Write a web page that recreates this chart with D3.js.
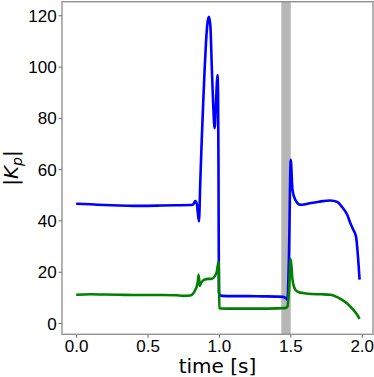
<!DOCTYPE html>
<html>
<head>
<meta charset="utf-8">
<script src="https://cdn.jsdelivr.net/npm/d3@7"></script>
<style>
  body { margin: 0; background: #fff; }
  svg { display: block; font-family: "DejaVu Sans", sans-serif; }
  .axis .domain { display: none; }
  .axis line { stroke: #666; }
  .axis text { fill: #000; font-size: 17px; }
</style>
</head>
<body>
<svg id="chart" width="374" height="377"></svg>
<script>

// time samples [s] and |Kp| values
let blueTime = [0, 0.1, 0.2, 0.3, 0.4, 0.5, 0.6, 0.7, 0.8, 0.82, 0.835, 0.845, 0.86, 0.87, 0.88, 0.89, 0.9, 0.91, 0.92, 0.93, 0.94, 0.95, 0.96, 0.97, 0.978, 0.985, 0.99, 0.994, 0.997, 1.0, 1.005, 1.02, 1.1, 1.2, 1.3, 1.4, 1.45, 1.47, 1.48, 1.49, 1.503, 1.515, 1.535, 1.57, 1.62, 1.7, 1.78, 1.83, 1.86, 1.9, 1.92, 1.94, 1.96, 1.975, 1.985];
let blueVals = [46.5, 46.3, 46.0, 45.8, 45.7, 45.7, 45.8, 45.9, 46.0, 46.3, 47.6, 46.5, 39.6, 56, 72, 86, 99, 110, 117, 119.4, 116, 100, 85, 76, 84, 93, 96.7, 90, 60, 12, 11.0, 10.6, 10.5, 10.5, 10.4, 10.3, 10.2, 9.6, 9.1, 25, 63.6, 52, 48, 46.1, 46.5, 47.3, 47.8, 47.2, 45.4, 42, 39, 36.5, 33.7, 25, 16.9];

let greenTime = [0, 0.1, 0.2, 0.3, 0.4, 0.5, 0.6, 0.7, 0.75, 0.8, 0.82, 0.835, 0.845, 0.852, 0.858, 0.866, 0.875, 0.9, 0.925, 0.95, 0.97, 0.985, 0.998, 1.003, 1.01, 1.1, 1.2, 1.3, 1.4, 1.45, 1.47, 1.48, 1.49, 1.503, 1.515, 1.535, 1.56, 1.59, 1.65, 1.72, 1.78, 1.82, 1.86, 1.9, 1.94, 1.965, 1.985];
let greenVals = [11.0, 11.2, 11.1, 11.0, 10.9, 10.9, 10.9, 10.8, 10.6, 10.7, 11.5, 13, 14.3, 16, 18.8, 14.5, 15.6, 17.0, 17.2, 17.2, 18.2, 20, 24, 5.8, 5.7, 5.6, 5.6, 5.6, 5.7, 5.8, 5.9, 6.5, 12, 24.9, 17, 13, 12, 11.7, 11.3, 11.2, 11.0, 10.3, 9.1, 7.5, 5.2, 3.5, 1.6];

let xTicks = [0, 0.5, 1.0, 1.5, 2.0];
let yTicks = [0, 20, 40, 60, 80, 100, 120];
let band = [1.437, 1.503];

let svg = d3.select("#chart");

let pLeft = 62, pRight = 373, pTop = 1.7, pBottom = 334.3;

let x = d3.scaleLinear().domain([-0.099, 2.079]).range([pLeft, pRight]);
let y = d3.scaleLinear().domain([-4.4, 125.3]).range([pBottom, pTop]);

// shaded interval
svg.append("rect")
  .attr("x", x(band[0]))
  .attr("y", pTop)
  .attr("width", x(band[1]) - x(band[0]))
  .attr("height", pBottom - pTop)
  .attr("fill", "#b6b6b6");

let line = d3.line()
  .curve(d3.curveMonotoneX)
  .x(d => x(d[0]))
  .y(d => y(d[1]));

function addSeries(times, vals, color) {
  svg.append("path")
    .datum(d3.zip(times, vals))
    .attr("d", line)
    .attr("fill", "none")
    .attr("stroke", color)
    .attr("stroke-width", 2.6)
    .attr("stroke-linejoin", "round")
    .attr("stroke-linecap", "butt");
}

addSeries(blueTime, blueVals, "#0000ff");
addSeries(greenTime, greenVals, "#008000");

// axes
svg.append("g")
  .attr("class", "axis")
  .attr("transform", "translate(0," + pBottom + ")")
  .call(d3.axisBottom(x)
    .tickValues(xTicks)
    .tickFormat(d3.format(".1f"))
    .tickSize(3.5)
    .tickPadding(1.8));

svg.append("g")
  .attr("class", "axis")
  .attr("transform", "translate(" + pLeft + ",0)")
  .call(d3.axisLeft(y)
    .tickValues(yTicks)
    .tickFormat(d3.format("d"))
    .tickSize(3.5)
    .tickPadding(1.8))
  .selectAll("text")
  .attr("dy", "0.36em");

// frame
svg.append("rect")
  .attr("x", pLeft)
  .attr("y", pTop)
  .attr("width", pRight - pLeft)
  .attr("height", pBottom - pTop)
  .attr("fill", "none")
  .attr("stroke", "#8c8c8c")
  .attr("stroke-width", 1.3);

// labels
svg.append("text")
  .attr("x", (pLeft + pRight) / 2)
  .attr("y", 373)
  .attr("text-anchor", "middle")
  .style("font-size", "20px")
  .text("time [s]");

let ylab = svg.append("text")
  .attr("transform", "translate(18," + ((pTop + pBottom) / 2) + ") rotate(-90)")
  .attr("text-anchor", "middle")
  .style("font-size", "20px");
ylab.append("tspan").text("|");
ylab.append("tspan").style("font-style", "italic").text("K");
ylab.append("tspan").style("font-style", "italic").style("font-size", "14px").attr("dy", "4").text("p");
ylab.append("tspan").attr("dy", "-4").text("|");

</script>
</body>
</html>
